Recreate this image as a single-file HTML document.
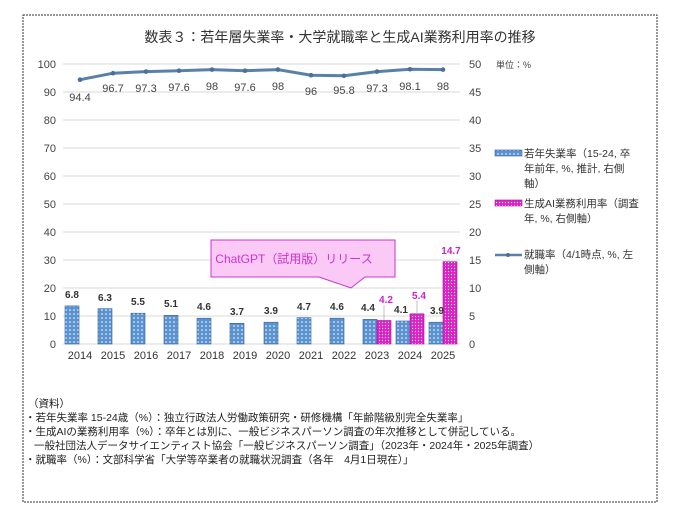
<!DOCTYPE html>
<html><head><meta charset="utf-8"><style>
body{margin:0;background:#fff;font-family:"Liberation Sans","Noto Sans CJK JP",sans-serif;}
</style></head><body>
<svg width="680" height="518" xmlns="http://www.w3.org/2000/svg" font-family="Liberation Sans, Noto Sans CJK JP, sans-serif">
<defs>
<pattern id="pb" width="4" height="4" patternUnits="userSpaceOnUse"><rect width="4" height="4" fill="#5b93d0"/><circle cx="2" cy="2" r="0.8" fill="#fff"/></pattern>
<pattern id="pp" width="3" height="3" patternUnits="userSpaceOnUse"><rect width="3" height="3" fill="#dd22cc"/><circle cx="1.5" cy="1.5" r="0.6" fill="#fff"/></pattern>
</defs>
<rect x="23" y="15" width="634" height="487" fill="none" stroke="#333" stroke-width="1" stroke-dasharray="2,1"/>
<text x="340" y="42" font-size="14" text-anchor="middle" fill="#333">数表３：若年層失業率・大学就職率と生成AI業務利用率の推移</text>
<g stroke="#d9d9d9" stroke-width="1">
<line x1="63" x2="460" y1="64" y2="64"/><line x1="63" x2="460" y1="92" y2="92"/><line x1="63" x2="460" y1="120" y2="120"/><line x1="63" x2="460" y1="148" y2="148"/><line x1="63" x2="460" y1="176" y2="176"/><line x1="63" x2="460" y1="204" y2="204"/><line x1="63" x2="460" y1="232" y2="232"/><line x1="63" x2="460" y1="260" y2="260"/><line x1="63" x2="460" y1="288" y2="288"/><line x1="63" x2="460" y1="316" y2="316"/><line x1="63" x2="460" y1="344" y2="344"/>
</g>
<g font-size="11" fill="#444" text-anchor="end">
<text x="56" y="68">100</text><text x="56" y="96">90</text><text x="56" y="124">80</text><text x="56" y="152">70</text><text x="56" y="180">60</text><text x="56" y="208">50</text><text x="56" y="236">40</text><text x="56" y="264">30</text><text x="56" y="292">20</text><text x="56" y="320">10</text><text x="56" y="348">0</text>
</g>
<g font-size="11" fill="#444">
<text x="469" y="68">50</text><text x="469" y="96">45</text><text x="469" y="124">40</text><text x="469" y="152">35</text><text x="469" y="180">30</text><text x="469" y="208">25</text><text x="469" y="236">20</text><text x="469" y="264">15</text><text x="469" y="292">10</text><text x="469" y="320">5</text><text x="469" y="348">0</text>
<text x="496" y="68" font-size="9">単位：%</text>
</g>
<g fill="url(#pb)" stroke="#2f5f9a" stroke-width="0.6">
<rect x="65" y="305.9" width="14" height="38.1"/>
<rect x="98" y="308.7" width="14" height="35.3"/>
<rect x="131" y="313.2" width="14" height="30.8"/>
<rect x="164" y="315.4" width="14" height="28.6"/>
<rect x="197" y="318.2" width="14" height="25.8"/>
<rect x="230" y="323.3" width="14" height="20.7"/>
<rect x="264" y="322.2" width="14" height="21.8"/>
<rect x="297" y="317.7" width="14" height="26.3"/>
<rect x="330" y="318.2" width="14" height="25.8"/>
<rect x="363" y="319.4" width="14" height="24.6"/>
<rect x="396" y="321.0" width="14" height="23.0"/>
<rect x="429" y="322.2" width="14" height="21.8"/>
</g>
<g fill="url(#pp)" stroke="#aa1199" stroke-width="0.6">
<rect x="377" y="320.5" width="14" height="23.5"/>
<rect x="410" y="313.8" width="14" height="30.2"/>
<rect x="443" y="261.7" width="14" height="82.3"/>
</g>
<g font-size="10" fill="#333" text-anchor="middle" font-weight="bold">
<text x="72" y="298">6.8</text><text x="105" y="301">6.3</text><text x="138" y="305">5.5</text><text x="171" y="307">5.1</text><text x="204" y="310">4.6</text><text x="237" y="315">3.7</text><text x="271" y="314">3.9</text><text x="304" y="310">4.7</text><text x="337" y="310">4.6</text><text x="368" y="311">4.4</text><text x="401" y="313">4.1</text><text x="437" y="314">3.9</text>
</g>
<g font-size="10" fill="#cc22cc" text-anchor="middle" font-weight="bold">
<text x="386" y="303">4.2</text><text x="419" y="299">5.4</text><text x="451" y="254">14.7</text>
</g>
<line x1="384" y1="305" x2="384" y2="320" stroke="#999" stroke-width="0.6"/>
<line x1="417" y1="301" x2="417" y2="313" stroke="#999" stroke-width="0.6"/>
<polyline fill="none" stroke="#5a7fa8" stroke-width="3" points="80,79.7 113,73.2 146,71.6 179,70.7 212,69.6 245,70.7 278,69.6 311,75.2 344,75.8 377,71.6 410,69.3 443,69.6"/>
<g fill="#4a6f98"><circle cx="80" cy="79.7" r="2.3"/><circle cx="113" cy="73.2" r="2.3"/><circle cx="146" cy="71.6" r="2.3"/><circle cx="179" cy="70.7" r="2.3"/><circle cx="212" cy="69.6" r="2.3"/><circle cx="245" cy="70.7" r="2.3"/><circle cx="278" cy="69.6" r="2.3"/><circle cx="311" cy="75.2" r="2.3"/><circle cx="344" cy="75.8" r="2.3"/><circle cx="377" cy="71.6" r="2.3"/><circle cx="410" cy="69.3" r="2.3"/><circle cx="443" cy="69.6" r="2.3"/></g>
<g font-size="11" fill="#444" text-anchor="middle">
<text x="80" y="101">94.4</text><text x="113" y="92">96.7</text><text x="146" y="92">97.3</text><text x="179" y="91">97.6</text><text x="212" y="90">98</text><text x="245" y="91">97.6</text><text x="278" y="90">98</text><text x="311" y="95">96</text><text x="344" y="94">95.8</text><text x="377" y="92">97.3</text><text x="410" y="90">98.1</text><text x="443" y="90">98</text>
</g>
<g font-size="11" fill="#333" text-anchor="middle">
<text x="80" y="359">2014</text><text x="113" y="359">2015</text><text x="146" y="359">2016</text><text x="179" y="359">2017</text><text x="212" y="359">2018</text><text x="245" y="359">2019</text><text x="278" y="359">2020</text><text x="311" y="359">2021</text><text x="344" y="359">2022</text><text x="377" y="359">2023</text><text x="410" y="359">2024</text><text x="443" y="359">2025</text>
</g>
<path d="M211,240 H395 V277 H365 L351,288 L319,277 H211 Z" fill="#fbc9f5" stroke="#cc33cc" stroke-width="1"/>
<text x="294" y="263" font-size="12" fill="#cc33cc" text-anchor="middle">ChatGPT（試用版）リリース</text>
<rect x="495" y="150" width="27" height="6" fill="url(#pb)" stroke="#2f5f9a" stroke-width="0.6"/>
<g font-size="10.5" fill="#333"><text x="524" y="157">若年失業率（15-24, 卒</text><text x="524" y="172">年前年, %, 推計, 右側</text><text x="524" y="187">軸）</text></g>
<rect x="495" y="200" width="27" height="6" fill="url(#pp)" stroke="#aa1199" stroke-width="0.6"/>
<g font-size="10.5" fill="#333"><text x="524" y="207">生成AI業務利用率（調査</text><text x="524" y="222">年, %, 右側軸）</text></g>
<line x1="495" y1="255" x2="522" y2="255" stroke="#5a7fa8" stroke-width="2.5"/><circle cx="508" cy="255" r="2" fill="#4a6f98"/>
<g font-size="10.5" fill="#333"><text x="524" y="258">就職率（4/1時点, %, 左</text><text x="524" y="273">側軸）</text></g>
<g font-size="10.5" fill="#222">
<text x="28" y="407">（資料）</text>
<text x="25" y="421">・若年失業率 15-24歳（%）：独立行政法人労働政策研究・研修機構「年齢階級別完全失業率」</text>
<text x="25" y="435">・生成AIの業務利用率（%）：卒年とは別に、一般ビジネスパーソン調査の年次推移として併記している。</text>
<text x="34" y="449">一般社団法人データサイエンティスト協会「一般ビジネスパーソン調査」（2023年・2024年・2025年調査）</text>
<text x="25" y="463">・就職率（%）：文部科学省「大学等卒業者の就職状況調査（各年　4月1日現在）」</text>
</g>
</svg>
</body></html>
